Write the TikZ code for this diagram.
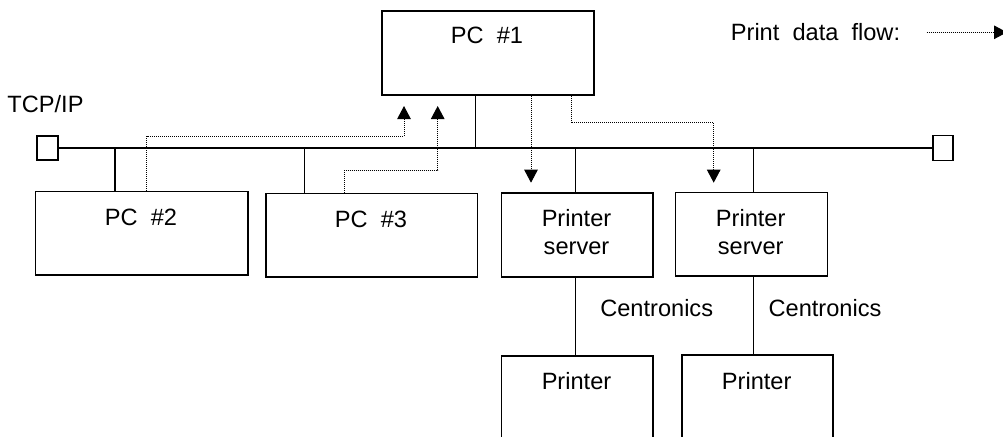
\documentclass[tikz,border=0pt]{standalone}
\usepackage{fontspec}
\setmainfont{Liberation Sans}
\usetikzlibrary{arrows.meta,calc}
\begin{document}
\begin{tikzpicture}[x=1pt,y=-1pt,
  box/.style={draw,line width=1.7pt,inner sep=0pt,anchor=north west},
  term/.style={draw,line width=1.5pt,inner sep=0pt,minimum width=21pt,minimum height=24pt},
  wire/.style={line width=1.5pt},
  flow/.style={line width=1pt,dash pattern=on 1pt off 1pt,-{Triangle[width=13.5pt,length=13pt]}},
  lbl/.style={inner sep=0pt,font=\fontsize{23.6}{27.7}\selectfont,align=center},
  bl/.style={lbl,anchor=base}]
\clip (0,0) rectangle (1003,436);
% boxes
\node[box,minimum width=212pt,minimum height=84pt] (pc1) at (381,10) {};
\node[box,minimum width=212.6pt,minimum height=83.3pt] (pc2) at (34.7,190.7) {};
\node[box,minimum width=211.7pt,minimum height=83.3pt] (pc3) at (265,192.7) {};
\node[box,minimum width=151.6pt,minimum height=83.7pt] (ps1) at (500.7,192.3) {};
\node[box,minimum width=152pt,minimum height=83.3pt] (ps2) at (674.7,191.7) {};
\node[box,minimum width=151.6pt,minimum height=110pt] (p1) at (500.7,355) {};
\node[box,minimum width=151.3pt,minimum height=110pt] (p2) at (681,354.3) {};
\node[term] (tl) at (47.5,148) {};
\node[term,minimum width=20pt,minimum height=25pt] (tr) at (943,148) {};
% texts
\node[bl] (t-pc1) at (487,43.5) {PC\ \ \#1};
\node[bl] (t-pc2) at (141,225.2) {PC\ \ \#2};
\node[bl] (t-pc3) at (371,227.5) {PC\ \ \#3};
\node[lbl] (t-ps1) at (576.5,232) {Printer\\server};
\node[lbl] (t-ps2) at (750.7,232) {Printer\\server};
\node[bl] (t-p1) at (576.5,389.5) {Printer};
\node[bl] (t-p2) at (756.7,389.5) {Printer};
\node[bl] (c1) at (656.7,316.8) {Centronics};
\node[bl] (c2) at (825,316.2) {Centronics};
\node[bl] (tcp) at (45.5,112.5) {TCP/IP};
\node[bl] (leg) at (815.5,40.2) {Print\ \ data\ \ flow:};
% bus
\draw[wire] (tl.east) -- (tr.west);
\draw[wire] ([xshift=94.3pt]pc1.south west) coordinate (d1) -- (d1 |- tl.east);
\draw[wire] ([xshift=80.3pt]pc2.north west) coordinate (d2) -- (d2 |- tl.east);
\draw[wire] ([xshift=39.7pt]pc3.north west) coordinate (d3) -- (d3 |- tl.east);
\draw[wire] ([xshift=75pt]ps1.north west) coordinate (d4) -- (d4 |- tl.east);
\draw[wire] ([xshift=78.6pt]ps2.north west) coordinate (d5) -- (d5 |- tl.east);
\draw[wire] ([xshift=75pt]ps1.south west) coordinate (d6) -- (d6 |- p1.north);
\draw[wire] ([xshift=78.6pt]ps2.south west) coordinate (d7) -- (d7 |- p2.north);
% flows
\coordinate (t1) at (404,106);
\coordinate (t2) at (437.7,106);
\coordinate (t3) at (531,182.7);
\coordinate (t4) at (713.7,182.7);
\coordinate (ls) at (926.7,32.3);
\coordinate (le) at (1007,32.3);
\draw[flow] ([xshift=112pt]pc2.north west) -- ++(0,-54.7) -| (t1);
\draw[flow] ([xshift=79pt]pc3.north west) -- ++(0,-22.4) -| (t2);
\draw[flow] (t3 |- pc1.south) -- (t3);
\draw[flow] ([xshift=190pt]pc1.south west) -- ++(0,26.7) -| (t4);
\draw[flow] (ls) -- (le);
\end{tikzpicture}
\end{document}
